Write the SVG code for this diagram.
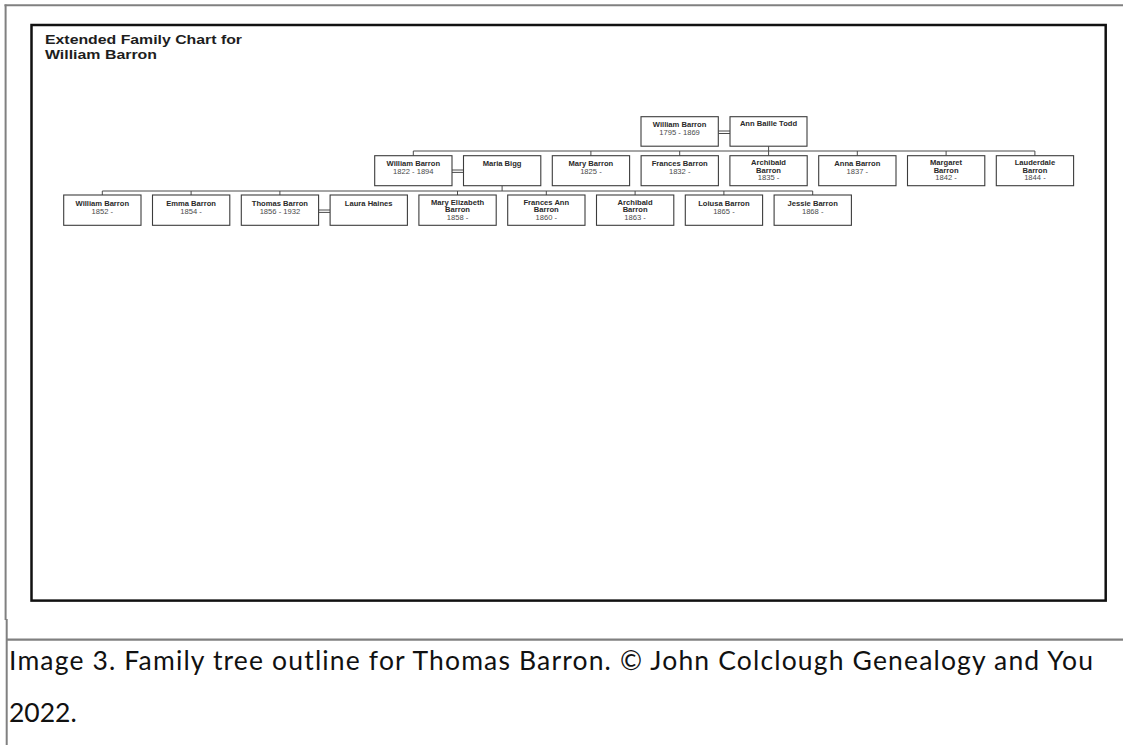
<svg xmlns="http://www.w3.org/2000/svg" width="1123" height="751" viewBox="0 0 1123 751">
  <style>
    .frame { fill: none; stroke: #808080; stroke-width: 2; }
    .chart { fill: #ffffff; stroke: #111111; stroke-width: 2.5; }
    .box { fill: #ffffff; stroke: #3c3c3c; stroke-width: 1.1; }
    .conn { fill: none; stroke: #4a4a4a; stroke-width: 1; }
    .nm { font-family: "Liberation Sans", Arial, sans-serif; font-size: 7.6px; font-weight: bold; fill: #2a2a2a; text-anchor: middle; }
    .dt { font-family: "Liberation Sans", Arial, sans-serif; font-size: 7.6px; fill: #4a4a4a; text-anchor: middle; }
    .title { font-family: "Liberation Sans", Arial, sans-serif; font-size: 13px; font-weight: bold; fill: #1e1e1e; }
    .cap { font-family: Lato, "Open Sans", "Liberation Sans", sans-serif; font-size: 26.5px; fill: #111111; }
  </style>

  <rect x="0" y="0" width="1123" height="751" fill="#ffffff"/>

  <!-- outer page frame -->
  <g id="page-frame">
    <line class="frame" x1="4.5" y1="5.3" x2="1123" y2="5.3"/>
    <line class="frame" x1="5.6" y1="4.5" x2="5.6" y2="620"/>
    <line class="frame" x1="6.7" y1="619" x2="6.7" y2="745"/>
    <line class="frame" x1="6" y1="639.6" x2="1123" y2="639.6" style="stroke-width:2.4"/>
  </g>

  <!-- chart frame -->
  <rect id="chart-frame" class="chart" x="31.5" y="25" width="1074.2" height="575.6"/>

  <g id="title">
    <text class="title" x="45" y="44.3" textLength="197" lengthAdjust="spacingAndGlyphs">Extended Family Chart for</text>
    <text class="title" x="45" y="58.7" textLength="112" lengthAdjust="spacingAndGlyphs">William Barron</text>
  </g>

  <!-- connectors -->
  <g id="connectors">
    <!-- marriage lines -->
    <line class="conn" x1="718.3" y1="131" x2="730" y2="131"/>
    <line class="conn" x1="718.3" y1="133.5" x2="730" y2="133.5"/>
    <line class="conn" x1="452" y1="170" x2="463.5" y2="170"/>
    <line class="conn" x1="452" y1="172.4" x2="463.5" y2="172.4"/>
    <line class="conn" x1="318.6" y1="210" x2="330.1" y2="210"/>
    <line class="conn" x1="318.6" y1="212.4" x2="330.1" y2="212.4"/>
    <!-- generation 1 to 2 -->
    <line class="conn" x1="768.6" y1="146.2" x2="768.6" y2="151"/>
    <line class="conn" x1="413.3" y1="151" x2="1034.9" y2="151"/>
    <line class="conn" x1="413.3" y1="151" x2="413.3" y2="155.7"/>
    <line class="conn" x1="590.9" y1="151" x2="590.9" y2="155.7"/>
    <line class="conn" x1="679.7" y1="151" x2="679.7" y2="155.7"/>
    <line class="conn" x1="768.6" y1="151" x2="768.6" y2="155.7"/>
    <line class="conn" x1="857.3" y1="151" x2="857.3" y2="155.7"/>
    <line class="conn" x1="946.1" y1="151" x2="946.1" y2="155.7"/>
    <line class="conn" x1="1034.9" y1="151" x2="1034.9" y2="155.7"/>
    <!-- generation 2 to 3 -->
    <line class="conn" x1="502.1" y1="185.7" x2="502.1" y2="191"/>
    <line class="conn" x1="102.3" y1="191" x2="812.7" y2="191"/>
    <line class="conn" x1="102.3" y1="191" x2="102.3" y2="195"/>
    <line class="conn" x1="191.1" y1="191" x2="191.1" y2="195"/>
    <line class="conn" x1="279.9" y1="191" x2="279.9" y2="195"/>
    <line class="conn" x1="457.5" y1="191" x2="457.5" y2="195"/>
    <line class="conn" x1="546.3" y1="191" x2="546.3" y2="195"/>
    <line class="conn" x1="635.1" y1="191" x2="635.1" y2="195"/>
    <line class="conn" x1="723.9" y1="191" x2="723.9" y2="195"/>
    <line class="conn" x1="812.7" y1="191" x2="812.7" y2="195"/>
  </g>

  <!-- generation 1 -->
  <g id="william-barron-1795">
    <rect class="box" x="641" y="116.7" width="77.3" height="29.5"/>
    <text class="nm" x="679.6" y="127.2">William Barron</text>
    <text class="dt" x="679.6" y="135.2">1795 - 1869</text>
  </g>
  <g id="ann-baille-todd">
    <rect class="box" x="730" y="116.7" width="77" height="29.5"/>
    <text class="nm" x="768.5" y="126.4">Ann Baille Todd</text>
  </g>

  <!-- generation 2 -->
  <g id="william-barron-1822">
    <rect class="box" x="374.7" y="155.7" width="77.3" height="30"/>
    <text class="nm" x="413.3" y="166.4">William Barron</text>
    <text class="dt" x="413.3" y="174.4">1822 - 1894</text>
  </g>
  <g id="maria-bigg">
    <rect class="box" x="463.5" y="155.7" width="77.3" height="30"/>
    <text class="nm" x="502.1" y="166.4">Maria Bigg</text>
  </g>
  <g id="mary-barron">
    <rect class="box" x="552.3" y="155.7" width="77.3" height="30"/>
    <text class="nm" x="590.9" y="166.4">Mary Barron</text>
    <text class="dt" x="590.9" y="174.4">1825 -</text>
  </g>
  <g id="frances-barron">
    <rect class="box" x="641.1" y="155.7" width="77.3" height="30"/>
    <text class="nm" x="679.7" y="166.4">Frances Barron</text>
    <text class="dt" x="679.7" y="174.4">1832 -</text>
  </g>
  <g id="archibald-barron-1835">
    <rect class="box" x="729.9" y="155.7" width="77.3" height="30"/>
    <text class="nm" x="768.5" y="165.2">Archibald</text>
    <text class="nm" x="768.5" y="172.8">Barron</text>
    <text class="dt" x="768.5" y="180.4">1835 -</text>
  </g>
  <g id="anna-barron">
    <rect class="box" x="818.7" y="155.7" width="77.3" height="30"/>
    <text class="nm" x="857.3" y="166.4">Anna Barron</text>
    <text class="dt" x="857.3" y="174.4">1837 -</text>
  </g>
  <g id="margaret-barron">
    <rect class="box" x="907.5" y="155.7" width="77.3" height="30"/>
    <text class="nm" x="946.1" y="165.2">Margaret</text>
    <text class="nm" x="946.1" y="172.8">Barron</text>
    <text class="dt" x="946.1" y="180.4">1842 -</text>
  </g>
  <g id="lauderdale-barron">
    <rect class="box" x="996.3" y="155.7" width="77.3" height="30"/>
    <text class="nm" x="1034.9" y="165.2">Lauderdale</text>
    <text class="nm" x="1034.9" y="172.8">Barron</text>
    <text class="dt" x="1034.9" y="180.4">1844 -</text>
  </g>

  <!-- generation 3 -->
  <g id="william-barron-1852">
    <rect class="box" x="63.7" y="195" width="77.3" height="30.3"/>
    <text class="nm" x="102.3" y="205.7">William Barron</text>
    <text class="dt" x="102.3" y="213.7">1852 -</text>
  </g>
  <g id="emma-barron">
    <rect class="box" x="152.5" y="195" width="77.3" height="30.3"/>
    <text class="nm" x="191.1" y="205.7">Emma Barron</text>
    <text class="dt" x="191.1" y="213.7">1854 -</text>
  </g>
  <g id="thomas-barron">
    <rect class="box" x="241.3" y="195" width="77.3" height="30.3"/>
    <text class="nm" x="279.9" y="205.7">Thomas Barron</text>
    <text class="dt" x="279.9" y="213.7">1856 - 1932</text>
  </g>
  <g id="laura-haines">
    <rect class="box" x="330.1" y="195" width="77.3" height="30.3"/>
    <text class="nm" x="368.7" y="205.7">Laura Haines</text>
  </g>
  <g id="mary-elizabeth-barron">
    <rect class="box" x="418.9" y="195" width="77.3" height="30.3"/>
    <text class="nm" x="457.5" y="204.5">Mary Elizabeth</text>
    <text class="nm" x="457.5" y="212.1">Barron</text>
    <text class="dt" x="457.5" y="219.7">1858 -</text>
  </g>
  <g id="frances-ann-barron">
    <rect class="box" x="507.7" y="195" width="77.3" height="30.3"/>
    <text class="nm" x="546.3" y="204.5">Frances Ann</text>
    <text class="nm" x="546.3" y="212.1">Barron</text>
    <text class="dt" x="546.3" y="219.7">1860 -</text>
  </g>
  <g id="archibald-barron-1863">
    <rect class="box" x="596.5" y="195" width="77.3" height="30.3"/>
    <text class="nm" x="635.1" y="204.5">Archibald</text>
    <text class="nm" x="635.1" y="212.1">Barron</text>
    <text class="dt" x="635.1" y="219.7">1863 -</text>
  </g>
  <g id="loiusa-barron">
    <rect class="box" x="685.3" y="195" width="77.3" height="30.3"/>
    <text class="nm" x="723.9" y="205.7">Loiusa Barron</text>
    <text class="dt" x="723.9" y="213.7">1865 -</text>
  </g>
  <g id="jessie-barron">
    <rect class="box" x="774.1" y="195" width="77.3" height="30.3"/>
    <text class="nm" x="812.7" y="205.7">Jessie Barron</text>
    <text class="dt" x="812.7" y="213.7">1868 -</text>
  </g>

  <!-- caption -->
  <g id="caption">
    <text class="cap" x="9" y="670" textLength="1084">Image 3. Family tree outline for Thomas Barron. © John Colclough Genealogy and You</text>
    <text class="cap" x="9" y="722">2022.</text>
  </g>
</svg>
